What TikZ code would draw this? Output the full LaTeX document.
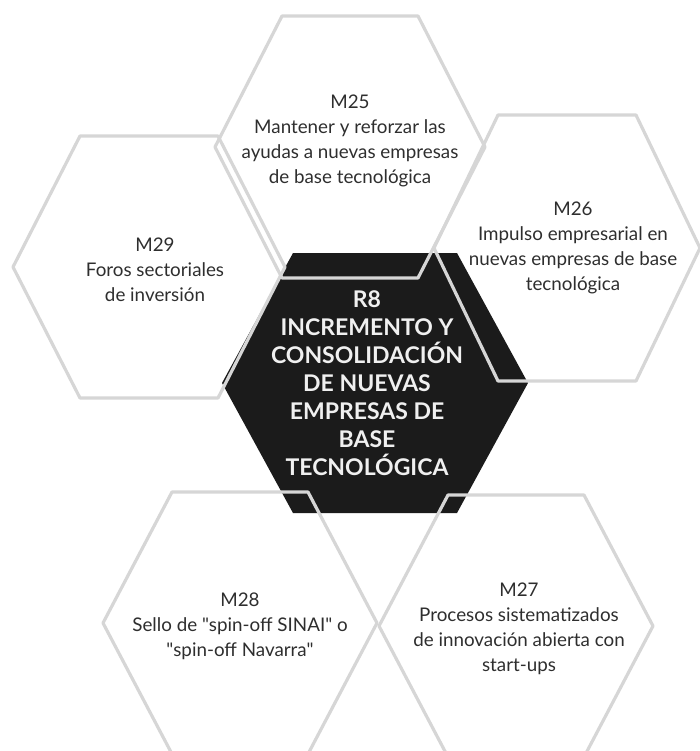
\documentclass[tikz,border=0pt]{standalone}
\usepackage{fontspec}
\setmainfont{Lato}
\usetikzlibrary{positioning}

\definecolor{hexgray}{HTML}{D6D6D6}
\definecolor{coreblack}{HTML}{1B1B1B}
\definecolor{txtgray}{HTML}{2E2E2E}

% flat-topped hexagon round the current origin: half width, half top edge, half height
\newcommand{\hexshape}[3]{(-#1,0) -- (-#2,-#3) -- (#2,-#3) -- (#1,0) -- (#2,#3) -- (-#2,#3) -- cycle}

\begin{document}
\begin{tikzpicture}[
    x=0.5pt, y=-0.5pt,
    hexline/.style={draw=hexgray, line width=1.6pt, line join=round},
    core/.style={fill=coreblack},
    measure/.style={font=\fontsize{9.4}{12.5}\selectfont, text=txtgray, align=center, inner sep=0pt},
    goal/.style={font=\fontsize{11.5}{14}\selectfont\bfseries, text=white!94!black, align=center, inner sep=0pt}
  ]
    \useasboundingbox (0,0) rectangle (700,751);
    \clip (0,0) rectangle (700,751);

    \coordinate (r8) at (375,383);
    \coordinate (m25) at (350,147);
    \coordinate (m26) at (567,248);
    \coordinate (m27) at (516,626);
    \coordinate (m28) at (240,623);
    \coordinate (m29) at (149,267);

    % central result
    \fill[core, shift={(r8)}] \hexshape{153}{82}{130};

    % measures, outlines only
    \draw[hexline, shift={(m25)}] \hexshape{135}{68}{131};
    \draw[hexline, shift={(m26)}] \hexshape{133}{69}{133};
    \draw[hexline, shift={(m29)}] \hexshape{136}{69}{131};
    \draw[hexline, shift={(m28)}] \hexshape{137}{68}{131};
    \draw[hexline, shift={(m27)}] \hexshape{137}{68}{131};

    \node[goal] (t8) at (367,383) {R8\\INCREMENTO Y\\CONSOLIDACIÓN\\DE NUEVAS\\EMPRESAS DE\\BASE\\TECNOLÓGICA};

    \node[measure] (t25) at (350,141) {M25\\Mantener y reforzar las\\ayudas a nuevas empresas\\de base tecnológica};
    \node[measure] (t26) at (573,248) {M26\\Impulso empresarial en\\nuevas empresas de base\\tecnológica};
    \node[measure] (t29) at (155,270) {M29\\Foros sectoriales\\de inversión};
    \node[measure] (t28) at (240,626) {M28\\Sello de \textquotedbl spin-off SINAI\textquotedbl{} o\\\textquotedbl spin-off Navarra\textquotedbl};
    \node[measure] (t27) at (519,629) {M27\\Procesos sistematizados\\de innovación abierta con\\start-ups};
  \end{tikzpicture}
\end{document}
